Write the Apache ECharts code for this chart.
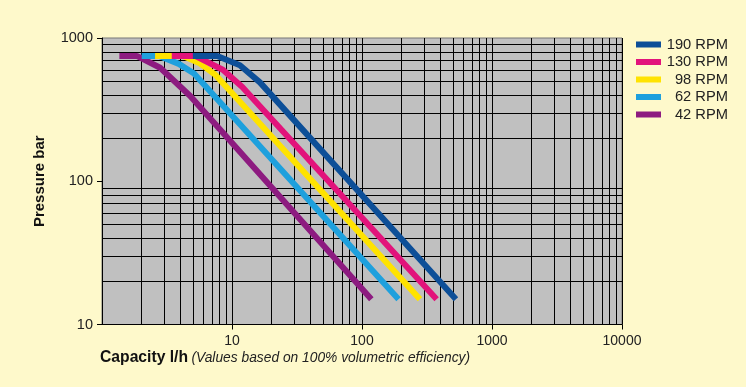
<!DOCTYPE html>
<html>
<head>
<meta charset="utf-8">
<script src="https://cdn.jsdelivr.net/npm/echarts@6/dist/echarts.min.js"></script>
<style>
html,body{margin:0;padding:0;background:#fef9cb;}
#c{width:746px;height:387px;}
</style>
</head>
<body>
<div id="c"></div>
<script>
// Series names (legend order)
const rpmNames = ['190 RPM', '130 RPM', '98 RPM', '62 RPM', '42 RPM'];
const rpmColors = ['#0d4f98', '#e2137b', '#ffe300', '#1ea0dd', '#8d1b80'];

// Capacity (l/h) and Pressure (bar) per curve
const cap190 = [5.0, 7.7, 11.5, 16.4, 528];
const pres190 = [750, 750, 645, 490, 15];
const cap130 = [3.44, 5.2, 8.5, 12, 375];
const pres130 = [750, 750, 600, 455, 15];
const cap98 = [2.56, 4.2, 5.6, 7.5, 279];
const pres98 = [750, 750, 670, 550, 15];
const cap62 = [2.02, 2.75, 3.9, 5.1, 191];
const pres62 = [750, 750, 660, 565, 15];
const cap42 = [1.36, 1.85, 2.8, 4.75, 118];
const pres42 = [750, 750, 620, 395, 15];

const caps = [cap190, cap130, cap98, cap62, cap42];
const pres = [pres190, pres130, pres98, pres62, pres42];

const FONT = '"Liberation Sans", Arial, sans-serif';

const series = rpmNames.map((n, i) => ({
  name: n,
  type: 'line',
  data: caps[i].map((c, j) => [c, pres[i][j]]),
  showSymbol: false,
  symbol: 'none',
  z: 10 - i,
  color: rpmColors[i],
  lineStyle: { width: 6, color: rpmColors[i], cap: 'butt', join: 'round' },
  itemStyle: { color: rpmColors[i] },
  emphasis: { disabled: true },
  animation: false
}));

const plainNum = v => String(Math.round(v));

const chart = echarts.init(document.getElementById('c'), null, { renderer: 'canvas' });
chart.setOption({
  backgroundColor: '#fef9cb',
  animation: false,
  grid: {
    left: 102, right: 124, top: 38, bottom: 62.5,
    show: true, backgroundColor: '#c0c0c0', borderColor: '#777', borderWidth: 1
  },
  legend: {
    orient: 'vertical',
    left: 631, top: 32,
    icon: 'rect', itemWidth: 25, itemHeight: 6, itemGap: 2.5,
    data: rpmNames,
    formatter: n => '{a|' + n + '}',
    textStyle: {
      rich: { a: { width: 62, align: 'right', fontSize: 14.7, lineHeight: 15, color: '#222', fontFamily: FONT } }
    },
    selectedMode: false
  },
  xAxis: {
    type: 'log', logBase: 10, min: 1, max: 10000,
    axisLine: { show: true, lineStyle: { color: '#000', width: 1 } },
    axisTick: { show: true, length: 5, lineStyle: { color: '#000' } },
    minorTick: { show: false, splitNumber: 9 },
    axisLabel: { color: '#222', fontSize: 14, fontFamily: FONT, margin: 10, showMinLabel: false, formatter: plainNum },
    splitLine: { show: true, lineStyle: { color: '#000', width: 1 } },
    minorSplitLine: { show: true, lineStyle: { color: '#000', width: 1 } }
  },
  yAxis: {
    type: 'log', logBase: 10, min: 10, max: 1000,
    name: 'Pressure bar', nameLocation: 'middle', nameRotate: 90, nameGap: 55,
    nameTextStyle: { fontSize: 15, fontWeight: 'bold', color: '#111', fontFamily: FONT },
    axisLine: { show: true, lineStyle: { color: '#000', width: 1 } },
    axisTick: { show: true, length: 5, lineStyle: { color: '#000' } },
    minorTick: { show: false, splitNumber: 9 },
    axisLabel: { color: '#222', fontSize: 14.5, fontFamily: FONT, margin: 9, formatter: plainNum },
    splitLine: { show: false },
    minorSplitLine: { show: true, lineStyle: { color: '#000', width: 1 } }
  },
  graphic: [{
    type: 'text', left: 100, top: 350,
    style: {
      text: '{b|Capacity l/h} {i|(Values based on 100% volumetric efficiency)}',
      rich: {
        b: { fontSize: 15.7, fontWeight: 'bold', fill: '#111', fontFamily: FONT },
        i: { fontSize: 13.8, fontStyle: 'italic', fill: '#222', fontFamily: FONT }
      }
    }
  }],
  series: series
});
</script>
</body>
</html>
